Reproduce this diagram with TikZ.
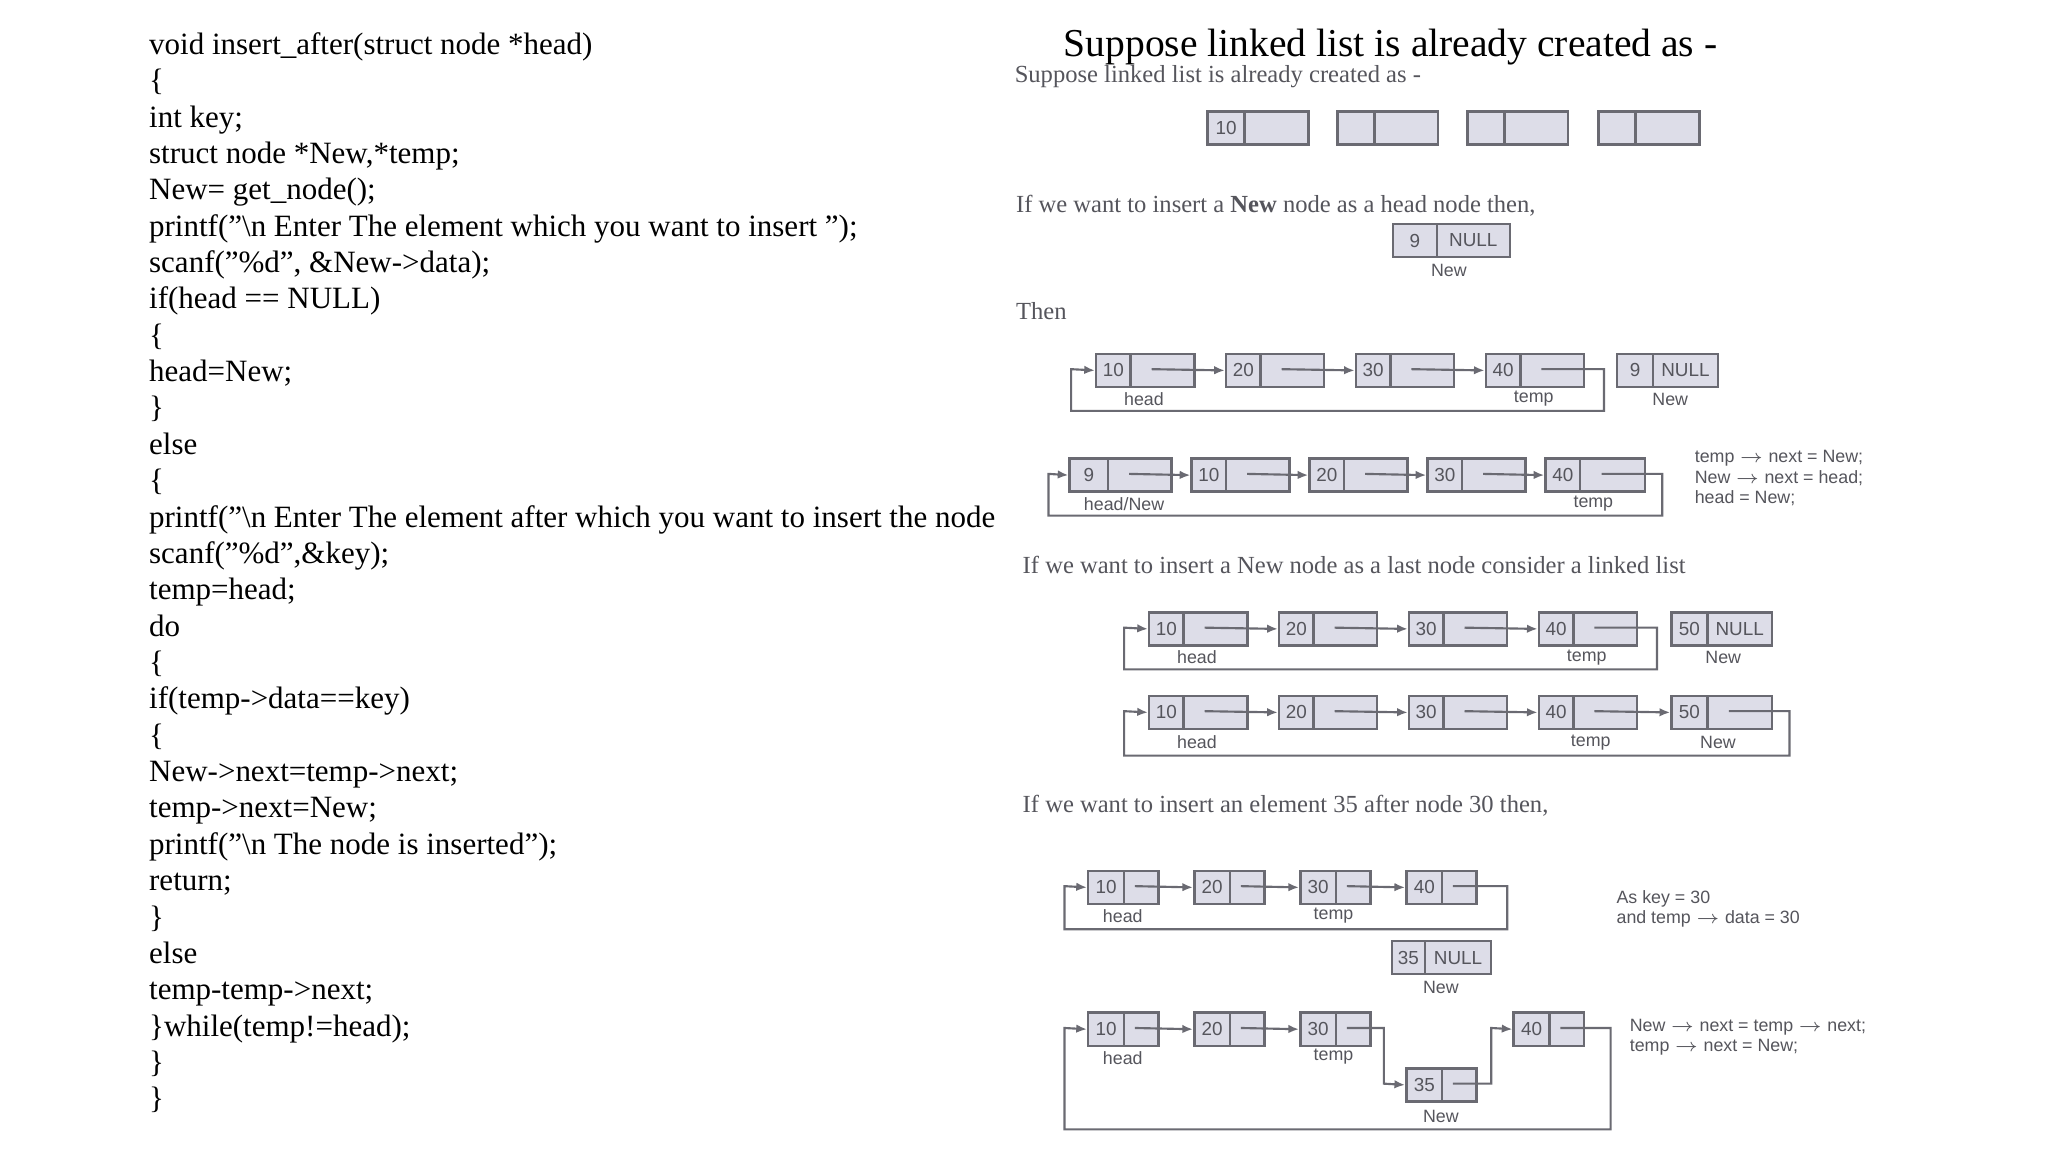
\documentclass[tikz,border=0pt]{standalone}
\usepackage{fontspec}
\setmainfont{Liberation Serif}
\setsansfont{Liberation Sans}
\usetikzlibrary{arrows.meta}
\definecolor{ln}{HTML}{6A6A72}
\definecolor{bx}{HTML}{DDDDE8}
\definecolor{tx}{HTML}{55555C}
\tikzset{
 cell/.style={draw=ln,fill=bx,line width=0.7pt,inner sep=0pt,minimum height={25*0.013073cm},font=\sffamily\fontsize{5.3}{6}\selectfont,text=tx},
 ptr/.style={draw=ln,line width=0.6pt,-{Latex[length=3pt,width=2.4pt]}},
 lbl/.style={font=\sffamily\fontsize{5}{6}\selectfont,text=tx,inner sep=0pt},
 captxt/.style={font=\fontsize{6.9}{8}\selectfont,text=tx,anchor=west,inner sep=0pt},
 code/.style={font=\fontsize{8.7}{10}\selectfont,anchor=base west,inner sep=0pt},
}
\newcommand\LN[7]{%
 \node[cell,minimum width={(#3-#2)*0.013073cm},anchor=north west] (#1-d) at (#2,#5) {#6};
 \node[cell,minimum width={(#4-#3)*0.013073cm},anchor=north west] (#1-p) at (#3,#5) {#7};
 \coordinate (#1-s) at ({#3+0.35*(#4-#3)},{#5+12.5});}
\begin{document}
\begin{tikzpicture}[x=0.013073cm,y=-0.013073cm]
\useasboundingbox[fill=white] (0,0) rectangle (1545,869);
% code
\begin{scope}
\clip (0,0) rectangle (756,869);
\foreach \t [count=\i from 0] in {
{void insert\_after(struct node *head)},
{\{},
{int key;},
{struct node *New,*temp;},
{New= get\_node();},
{printf("\textbackslash n Enter The element which you want to insert ");},
{scanf("\%d", \&New->data);},
{if(head == NULL)},
{\{},
{head=New;},
{\}},
{else},
{\{},
{printf("\textbackslash n Enter The element after which you want to insert the node ");},
{scanf("\%d",\&key);},
{temp=head;},
{do},
{\{},
{if(temp->data==key)},
{\{},
{New->next=temp->next;},
{temp->next=New;},
{printf("\textbackslash n The node is inserted");},
{return;},
{\}},
{else},
{temp-temp->next;},
{\}while(temp!=head);},
{\}},
{\}}}
{\node[code] (c\i) at (112,{41+27.43*\i}) {\t};}
\end{scope}
\node[font=\fontsize{11.1}{13}\selectfont,anchor=base west,inner sep=0pt] (title) at (802,43) {Suppose linked list is already created as -};
% captions
\node[captxt] (k1) at (765,58) {Suppose linked list is already created as -};
\node[captxt] (k2) at (766,155) {If we want to insert a {\bfseries New} node as a head node then,};
\node[captxt] (k3) at (766,235) {Then};
\node[captxt] (k4) at (771,426) {If we want to insert a New node as a last node consider a linked list};
\node[captxt] (k5) at (771,608) {If we want to insert an element 35 after node 30 then,};
% row 1
\LN{a1}{910}{938}{986}{83}{10}{}
\LN{a2}{1008}{1036}{1084}{83}{}{}
\LN{a3}{1106}{1134}{1182}{83}{}{}
\LN{a4}{1205}{1233}{1281}{83}{}{}
% row 2
\LN{b1}{1050}{1083}{1138}{168}{9}{NULL}
\node[lbl] (bl) at (1093,204) {New};
% row 3
\LN{c1}{826}{852}{900}{266}{10}{}
\LN{c2}{924}{950}{998}{266}{20}{}
\LN{c3}{1022}{1048}{1096}{266}{30}{}
\LN{c4}{1120}{1146}{1194}{266}{40}{}
\LN{c5}{1219}{1246}{1295}{266}{9}{NULL}
\draw[ptr] (c1-s) -- (c2-d.west);
\draw[ptr] (c2-s) -- (c3-d.west);
\draw[ptr] (c3-s) -- (c4-d.west);
\draw[ptr] (c4-s) -- (1210,278.5) -- (1210,310) -- (808,310) -- (808,278.5) -- (c1-d.west);
\node[lbl] (cl1) at (863,301) {head};
\node[lbl] (cl2) at (1157,301) {temp};
\node[lbl] (cl3) at (1260,301) {New};
% row 4
\LN{d1}{806}{835}{883}{345}{9}{}
\LN{d2}{898}{924}{972}{345}{10}{}
\LN{d3}{987}{1013}{1061}{345}{20}{}
\LN{d4}{1076}{1102}{1150}{345}{30}{}
\LN{d5}{1165}{1191}{1240}{345}{40}{}
\draw[ptr] (d1-s) -- (d2-d.west);
\draw[ptr] (d2-s) -- (d3-d.west);
\draw[ptr] (d3-s) -- (d4-d.west);
\draw[ptr] (d4-s) -- (d5-d.west);
\draw[ptr] (d5-s) -- (1254,357.5) -- (1254,389) -- (791,389) -- (791,357.5) -- (d1-d.west);
\node[lbl] (dl1) at (848,380) {head/New};
\node[lbl] (dl2) at (1202,380) {temp};
\node[lbl,anchor=west] (dt1) at (1278,346) {temp $\rightarrow$ next = New;};
\node[lbl,anchor=west] (dt2) at (1278,361) {New $\rightarrow$ next = head;};
\node[lbl,anchor=west] (dt3) at (1278,376) {head = New;};
% row 5
\LN{e1}{866}{892}{940}{461}{10}{}
\LN{e2}{964}{990}{1038}{461}{20}{}
\LN{e3}{1062}{1088}{1136}{461}{30}{}
\LN{e4}{1160}{1186}{1234}{461}{40}{}
\LN{e5}{1260}{1287}{1336}{461}{50}{NULL}
\draw[ptr] (e1-s) -- (e2-d.west);
\draw[ptr] (e2-s) -- (e3-d.west);
\draw[ptr] (e3-s) -- (e4-d.west);
\draw[ptr] (e4-s) -- (1250,473.5) -- (1250,505) -- (848,505) -- (848,473.5) -- (e1-d.west);
\node[lbl] (el1) at (903,496) {head};
\node[lbl] (el2) at (1197,496) {temp};
\node[lbl] (el3) at (1300,496) {New};
% row 6
\LN{f1}{866}{892}{940}{524}{10}{}
\LN{f2}{964}{990}{1038}{524}{20}{}
\LN{f3}{1062}{1088}{1136}{524}{30}{}
\LN{f4}{1160}{1186}{1234}{524}{40}{}
\LN{f5}{1260}{1287}{1336}{524}{50}{}
\draw[ptr] (f1-s) -- (f2-d.west);
\draw[ptr] (f2-s) -- (f3-d.west);
\draw[ptr] (f3-s) -- (f4-d.west);
\draw[ptr] (f4-s) -- (f5-d.west);
\draw[ptr] (f5-s) -- (1350,536.5) -- (1350,570) -- (848,570) -- (848,536.5) -- (f1-d.west);
\node[lbl] (fl1) at (903,560) {head};
\node[lbl] (fl2) at (1200,560) {temp};
\node[lbl] (fl3) at (1296,560) {New};
% row 7
\LN{g1}{820}{847}{873}{656}{10}{}
\LN{g2}{900}{927}{953}{656}{20}{}
\LN{g3}{980}{1007}{1033}{656}{30}{}
\LN{g4}{1060}{1087}{1113}{656}{40}{}
\draw[ptr] (g1-s) -- (g2-d.west);
\draw[ptr] (g2-s) -- (g3-d.west);
\draw[ptr] (g3-s) -- (g4-d.west);
\draw[ptr] (g4-s) -- (1137,668.5) -- (1137,701) -- (803,701) -- (803,668.5) -- (g1-d.west);
\node[lbl] (gl1) at (847,691) {head};
\node[lbl] (gl2) at (1006,691) {temp};
\node[lbl,anchor=west] (gt1) at (1219,678) {As key = 30};
\node[lbl,anchor=west] (gt2) at (1219,693) {and temp $\rightarrow$ data = 30};
\LN{gn}{1049}{1074}{1124}{709}{35}{NULL}
\node[lbl] (gnl) at (1087,745) {New};
% row 8
\LN{h1}{820}{847}{873}{763}{10}{}
\LN{h2}{900}{927}{953}{763}{20}{}
\LN{h3}{980}{1007}{1033}{763}{30}{}
\LN{h4}{1141}{1168}{1194}{763}{40}{}
\LN{hn}{1060}{1087}{1113}{805}{35}{}
\draw[ptr] (h1-s) -- (h2-d.west);
\draw[ptr] (h2-s) -- (h3-d.west);
\draw[ptr] (h3-s) -- (1044,775.5) -- (1044,817.5) -- (hn-d.west);
\draw[ptr] (hn-s) -- (1125,817.5) -- (1125,775.5) -- (h4-d.west);
\draw[ptr] (h4-s) -- (1215,775.5) -- (1215,852) -- (803,852) -- (803,775.5) -- (h1-d.west);
\node[lbl] (hl1) at (847,798) {head};
\node[lbl] (hl2) at (1006,797) {temp};
\node[lbl] (hl3) at (1087,842) {New};
\node[lbl,anchor=west] (ht1) at (1229,775) {New $\rightarrow$ next = temp $\rightarrow$ next;};
\node[lbl,anchor=west] (ht2) at (1229,790) {temp $\rightarrow$ next = New;};
\end{tikzpicture}
\end{document}
